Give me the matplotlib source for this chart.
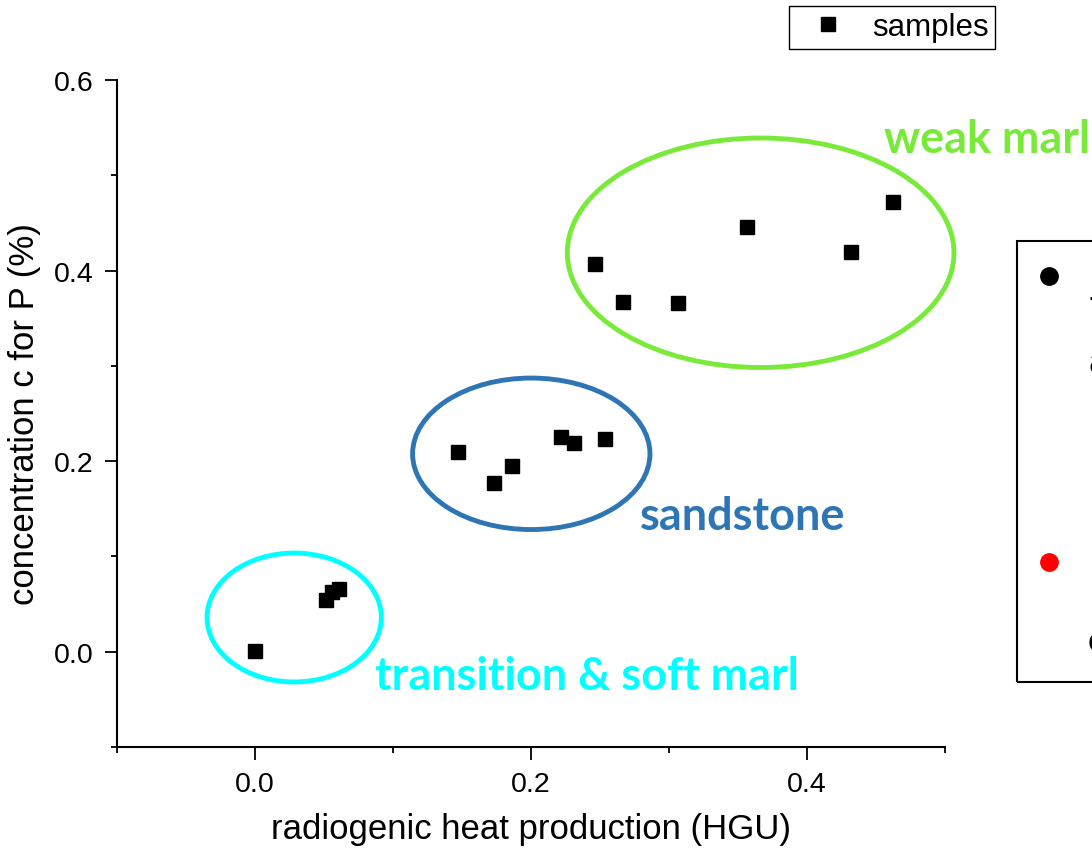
import matplotlib
matplotlib.use("Agg")
import matplotlib.pyplot as plt
from matplotlib.patches import Ellipse, Rectangle
from matplotlib.lines import Line2D
from matplotlib.ticker import FixedLocator, FormatStrFormatter

# ---- data ----
heat_transition = [0.0, 0.0512, 0.0556, 0.0607]
conc_transition = [0.0007, 0.0542, 0.0626, 0.0661]
heat_sandstone = [0.1473, 0.1734, 0.1862, 0.2217, 0.2314, 0.2538]
conc_sandstone = [0.2101, 0.1772, 0.1948, 0.2258, 0.2195, 0.2231]
heat_weakmarl = [0.2466, 0.2669, 0.3063, 0.3567, 0.4321, 0.4621]
conc_weakmarl = [0.4066, 0.3674, 0.3657, 0.4454, 0.4198, 0.4719]

x_ticks = [0.0, 0.2, 0.4]
y_ticks = [0.0, 0.2, 0.4, 0.6]
x_minor = [-0.1, 0.1, 0.3, 0.5]
y_minor = [-0.1, 0.1, 0.3, 0.5]

group_names = ["transition & soft marl", "sandstone", "weak marl"]
group_colors = ["#00FFFF", "#2E75B6", "#79EA3A"]

# ---- figure ----
plt.rcParams['font.family'] = ['Liberation Sans', 'DejaVu Sans']
fig = plt.figure(figsize=(10.92, 8.53), dpi=100)
ax = fig.add_axes([117/1092, 1-748/853, (945-117)/1092, (748-81)/853])

xs = heat_transition + heat_sandstone + heat_weakmarl
ys = conc_transition + conc_sandstone + conc_weakmarl
ax.plot(xs, ys, 's', color='black', ms=10, linestyle='none', label='samples', zorder=3)

ax.set_xlim(-0.1, 0.5)
ax.set_ylim(-0.1, 0.6)
for s in ['top', 'right']:
    ax.spines[s].set_visible(False)
for s in ['left', 'bottom']:
    ax.spines[s].set_linewidth(1.5)

ax.xaxis.set_major_locator(FixedLocator(x_ticks))
ax.yaxis.set_major_locator(FixedLocator(y_ticks))
ax.xaxis.set_minor_locator(FixedLocator(x_minor))
ax.yaxis.set_minor_locator(FixedLocator(y_minor))
ax.xaxis.set_major_formatter(FormatStrFormatter('%.1f'))
ax.yaxis.set_major_formatter(FormatStrFormatter('%.1f'))
ax.tick_params(which='major', direction='out', length=9, width=1.3, labelsize=20.5, pad=8)
ax.tick_params(which='minor', direction='out', length=4.5, width=1.3)

ax.set_xlabel('radiogenic heat production (HGU)', fontsize=25, labelpad=11)
ax.set_ylabel('concentration c for P (%)', fontsize=25, labelpad=9)

# group outlines (annotation shapes)
outlines = [((0.0284, 0.0359), 0.1263, 0.1353),
            ((0.2002, 0.2077), 0.1720, 0.1590),
            ((0.3664, 0.4187), 0.2802, 0.2409)]
for (c, w, h), col in zip(outlines, group_colors):
    ax.add_patch(Ellipse(c, w, h, fill=False, edgecolor=col, lw=3.5, zorder=2,
                         clip_on=False))

label_pos = [(0.087, -0.0388), (0.279, 0.129), (0.4558, 0.5244)]
for name, col, (tx, ty) in zip(group_names, group_colors, label_pos):
    ax.text(tx, ty, name, color=col, fontsize=32.4, fontweight='bold',
            family=['Lato', 'DejaVu Sans'], ha='left', va='baseline', clip_on=False)

# samples legend
leg = ax.legend(loc='upper right', bbox_to_anchor=(995/1092, 1-7/853),
                bbox_transform=fig.transFigure, fontsize=22.5, frameon=True,
                fancybox=False, framealpha=1, edgecolor='black',
                borderpad=0.2, handlelength=2.1, handletextpad=0.36,
                borderaxespad=0)
leg.get_frame().set_linewidth(1.0)

# partially visible second legend at the right edge (cut off)
fig.add_artist(Rectangle((1017/1092, 1-682.7/853), 0.2, (682.7-241.7)/853,
                         transform=fig.transFigure, fill=False, edgecolor='black', lw=1.5))
fig.add_artist(Line2D([1048.5/1092], [1-277/853], marker='o', ms=12.5, color='black',
                      linestyle='none', transform=fig.transFigure))
fig.add_artist(Line2D([1048.5/1092], [1-562.5/853], marker='o', ms=12.5, color='red',
                      linestyle='none', transform=fig.transFigure))
fig.text(1088/1092, 1-300/853, '.', fontsize=20, color='black', ha='left', va='baseline')
fig.text(1088/1092, 1-373/853, 'a', fontsize=26, color='black', ha='left', va='baseline')
fig.text(1089/1092, 1-565/853, '[', fontsize=30, color='red', ha='left', va='center')
fig.text(1088/1092, 1-652/853, 'C', fontsize=20, color='black', ha='left', va='baseline')

fig.savefig('out.png', dpi=100)
